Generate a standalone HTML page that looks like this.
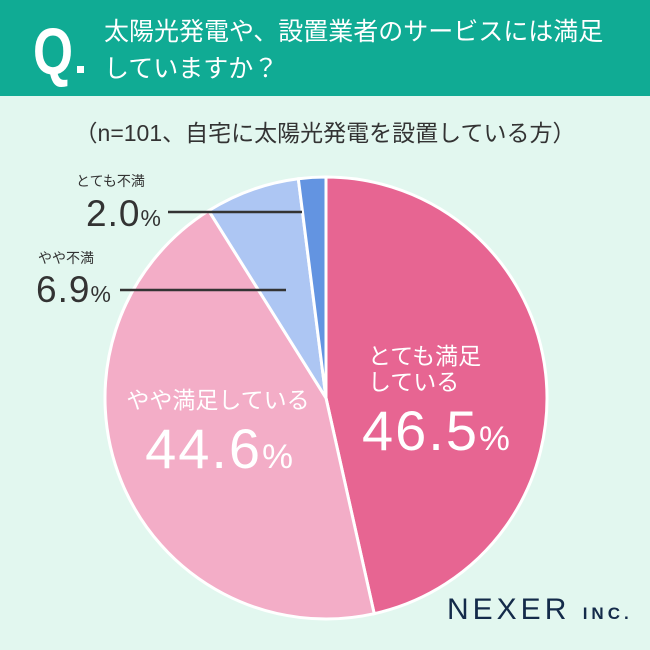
<!DOCTYPE html>
<html><head><meta charset="utf-8"><style>
html,body{margin:0;padding:0}
body{width:650px;height:650px;overflow:hidden;background:#e2f7ef;font-family:"Liberation Sans","Noto Sans CJK JP",sans-serif;position:relative}
.hdr{position:absolute;left:0;top:0;width:650px;height:96px;background:#10ab94}
.q{position:absolute;left:33px;top:18px;color:#fff;font-size:66px;font-weight:bold;line-height:66px;transform:scaleX(0.78);transform-origin:left top}
.qd{position:absolute;left:77px;top:66px;width:7px;height:7px;background:#fff}
.qt{position:absolute;left:104px;top:14px;color:#fff;font-size:25px;line-height:37px}
.sub{position:absolute;left:0;width:650px;top:114px;text-align:center;color:#333;font-size:23px}
svg{position:absolute;left:0;top:0}
</style></head><body>
<div class="hdr">
<div class="q">Q</div>
<div class="qd"></div>
<div class="qt">太陽光発電や、設置業者のサービスには満足<br>していますか？</div>
</div>
<div class="sub">（n=101、自宅に太陽光発電を設置している方）</div>
<svg id="chart" width="650" height="650"></svg>
<div style="position:absolute;left:447px;top:593px;color:#142b4a;font-size:30px;letter-spacing:4px">NEXER <span style="font-size:17px;font-weight:bold">INC.</span></div>
<script>
const categories=["とても満足している","やや満足している","やや不満","とても不満"];
const values=[46.5,44.6,6.9,2.0];
const colors=["#e76592","#f3adc7","#adc6f3","#6394e1"];
const NS="http://www.w3.org/2000/svg";
const svg=document.getElementById('chart');
const cx=326,cy=398,r=221;
const total=values.reduce((a,b)=>a+b,0);
function pt(a,rr){return [cx+rr*Math.sin(a),cy-rr*Math.cos(a)];}
let start=0;
values.forEach((v,i)=>{
 const a0=start/total*2*Math.PI, a1=(start+v)/total*2*Math.PI;
 const p0=pt(a0,r),p1=pt(a1,r);
 const p=document.createElementNS(NS,'path');
 p.setAttribute('d',`M${cx},${cy}L${p0[0]},${p0[1]}A${r},${r} 0 ${a1-a0>Math.PI?1:0} 1 ${p1[0]},${p1[1]}Z`);
 p.setAttribute('fill',colors[i]);p.setAttribute('stroke','#fff');p.setAttribute('stroke-width','3');
 
 
 svg.appendChild(p);
 start+=v;
});
function txt(x,y,s,size,fill,anchor,name,ls){
 const t=document.createElementNS(NS,'text');
 t.setAttribute('x',x);t.setAttribute('y',y);t.setAttribute('font-size',size);t.setAttribute('fill',fill);
 t.setAttribute('text-anchor',anchor||'start');t.textContent=s;
 if(ls)t.setAttribute('letter-spacing',ls);
 
 
 svg.appendChild(t);return t;
}
function pct(x,y,v,size,fill,anchor,name,ls){
 const t=txt(x,y,'',size,fill,anchor,name,ls);
 const a=document.createElementNS(NS,'tspan');a.textContent=v.toFixed(1);t.appendChild(a);
 const b=document.createElementNS(NS,'tspan');b.textContent='%';b.setAttribute('font-size',size*0.62);t.appendChild(b);
}
txt(368,364,'とても満足',23,'#fff','start','label-very-satisfied');
txt(368,390,'している',23,'#fff','start','label-very-satisfied-2');
pct(362,450,values[0],56,'#fff','start','value-very-satisfied',2);
txt(218,408,'やや満足している',23,'#fff','middle','label-somewhat-satisfied');
pct(220,468,values[1],56,'#fff','middle','value-somewhat-satisfied',2);
txt(76,186,'とても不満',14,'#333','start','label-very-dissatisfied');
pct(86,226,values[3],37,'#333','start','value-very-dissatisfied',1);
txt(38,263,'やや不満',14,'#333','start','label-somewhat-dissatisfied');
pct(36,302,values[2],37,'#333','start','value-somewhat-dissatisfied',1);
[[168,212,302,212],[120,290,286,290]].forEach((l,i)=>{
 const e=document.createElementNS(NS,'line');
 e.setAttribute('x1',l[0]);e.setAttribute('y1',l[1]);e.setAttribute('x2',l[2]);e.setAttribute('y2',l[3]);
 e.setAttribute('stroke','#333');e.setAttribute('stroke-width','2.5');
 
 
 svg.appendChild(e);
});
</script>
</body></html>
